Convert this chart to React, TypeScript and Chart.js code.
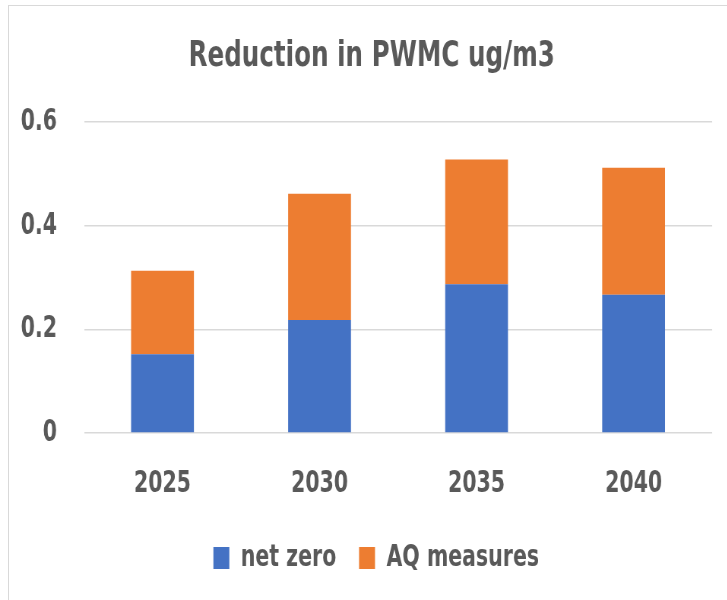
import React, { useEffect, useRef } from "react";
import { Chart, registerables } from "chart.js";

Chart.register(...registerables);

const categories = ["2025", "2030", "2035", "2040"];
const netZero = [0.152, 0.218, 0.287, 0.267];
const aqMeasures = [0.161, 0.244, 0.241, 0.245];
const yTicks = [0, 0.2, 0.4, 0.6];
const chartTitle = "Reduction in PWMC ug/m3";
const seriesNames = ["net zero", "AQ measures"];

const FONT = "'DejaVu Sans Condensed', 'DejaVu Sans', sans-serif";
const TEXT = "#595959";
// horizontal condensing of the whole drawing (the reference uses a narrow font)
const SX = 0.76;
const CW = 978;
const CH = 600;

// centre title and legend over the whole frame rather than the padded box
const centerBlocks = {
  id: "centerBlocks",
  afterLayout(chart: any) {
    if (chart.titleBlock) {
      chart.titleBlock.left = 0;
      chart.titleBlock.right = chart.width;
    }
    if (chart.legend) {
      chart.legend.left = 6;
      chart.legend.right = chart.width + 6;
    }
  },
};

export default function App() {
  const ref = useRef<HTMLCanvasElement | null>(null);

  useEffect(() => {
    if (!ref.current) return;
    const chart = new Chart(ref.current, {
      type: "bar",
      data: {
        labels: categories,
        datasets: [
          {
            label: seriesNames[0],
            data: netZero,
            backgroundColor: "#4472C4",
            barPercentage: 0.4,
            categoryPercentage: 1.0,
          },
          {
            label: seriesNames[1],
            data: aqMeasures,
            backgroundColor: "#ED7D31",
            barPercentage: 0.4,
            categoryPercentage: 1.0,
          },
        ],
      },
      plugins: [centerBlocks],
      options: {
        responsive: false,
        animation: false,
        devicePixelRatio: 1,
        layout: { padding: { left: 0, right: 41, top: 0, bottom: 17 } },
        plugins: {
          title: {
            display: true,
            text: chartTitle,
            color: TEXT,
            font: { family: FONT, size: 36, weight: "bold" },
            padding: { top: 35, bottom: 44 },
          },
          legend: {
            position: "bottom",
            labels: {
              color: TEXT,
              font: { family: FONT, size: 30, weight: "bold" },
              boxWidth: 21,
              boxHeight: 22,
              padding: 30,
            },
          },
          tooltip: { enabled: false },
        },
        scales: {
          x: {
            stacked: true,
            afterFit: (scale: any) => {
              scale.height = 80;
            },
            grid: { display: false, drawTicks: false },
            border: { display: false },
            ticks: {
              color: TEXT,
              font: { family: FONT, size: 30, weight: "bold" },
              padding: 33,
            },
          },
          y: {
            stacked: true,
            min: 0,
            max: 0.6,
            afterFit: (scale: any) => {
              scale.width = 110.5;
            },
            afterBuildTicks: (scale: any) => {
              scale.ticks = yTicks.map((v) => ({ value: v }));
            },
            grid: { color: "#d9d9d9", lineWidth: 1.5, drawTicks: false },
            border: { display: false },
            ticks: {
              color: TEXT,
              font: { family: FONT, size: 30, weight: "bold" },
              padding: 35.5,
              callback: (v: any) => String(Number(Number(v).toFixed(1))),
            },
          },
        },
      },
    });
    return () => chart.destroy();
  }, []);

  return (
    <div
      style={{
        position: "fixed",
        left: 0,
        top: 0,
        width: 727,
        height: 600,
        overflow: "hidden",
        background: "#ffffff",
      }}
    >
      <div
        style={{
          position: "absolute",
          left: 8,
          top: 5,
          width: 800,
          height: 700,
          border: "1px solid #d9d9d9",
        }}
      />
      <div
        style={{
          position: "absolute",
          left: 0,
          top: 0,
          width: CW,
          height: CH,
          transform: `scaleX(${SX})`,
          transformOrigin: "0 0",
        }}
      >
        <canvas ref={ref} width={CW} height={CH} style={{ width: CW, height: CH }} />
      </div>
    </div>
  );
}
